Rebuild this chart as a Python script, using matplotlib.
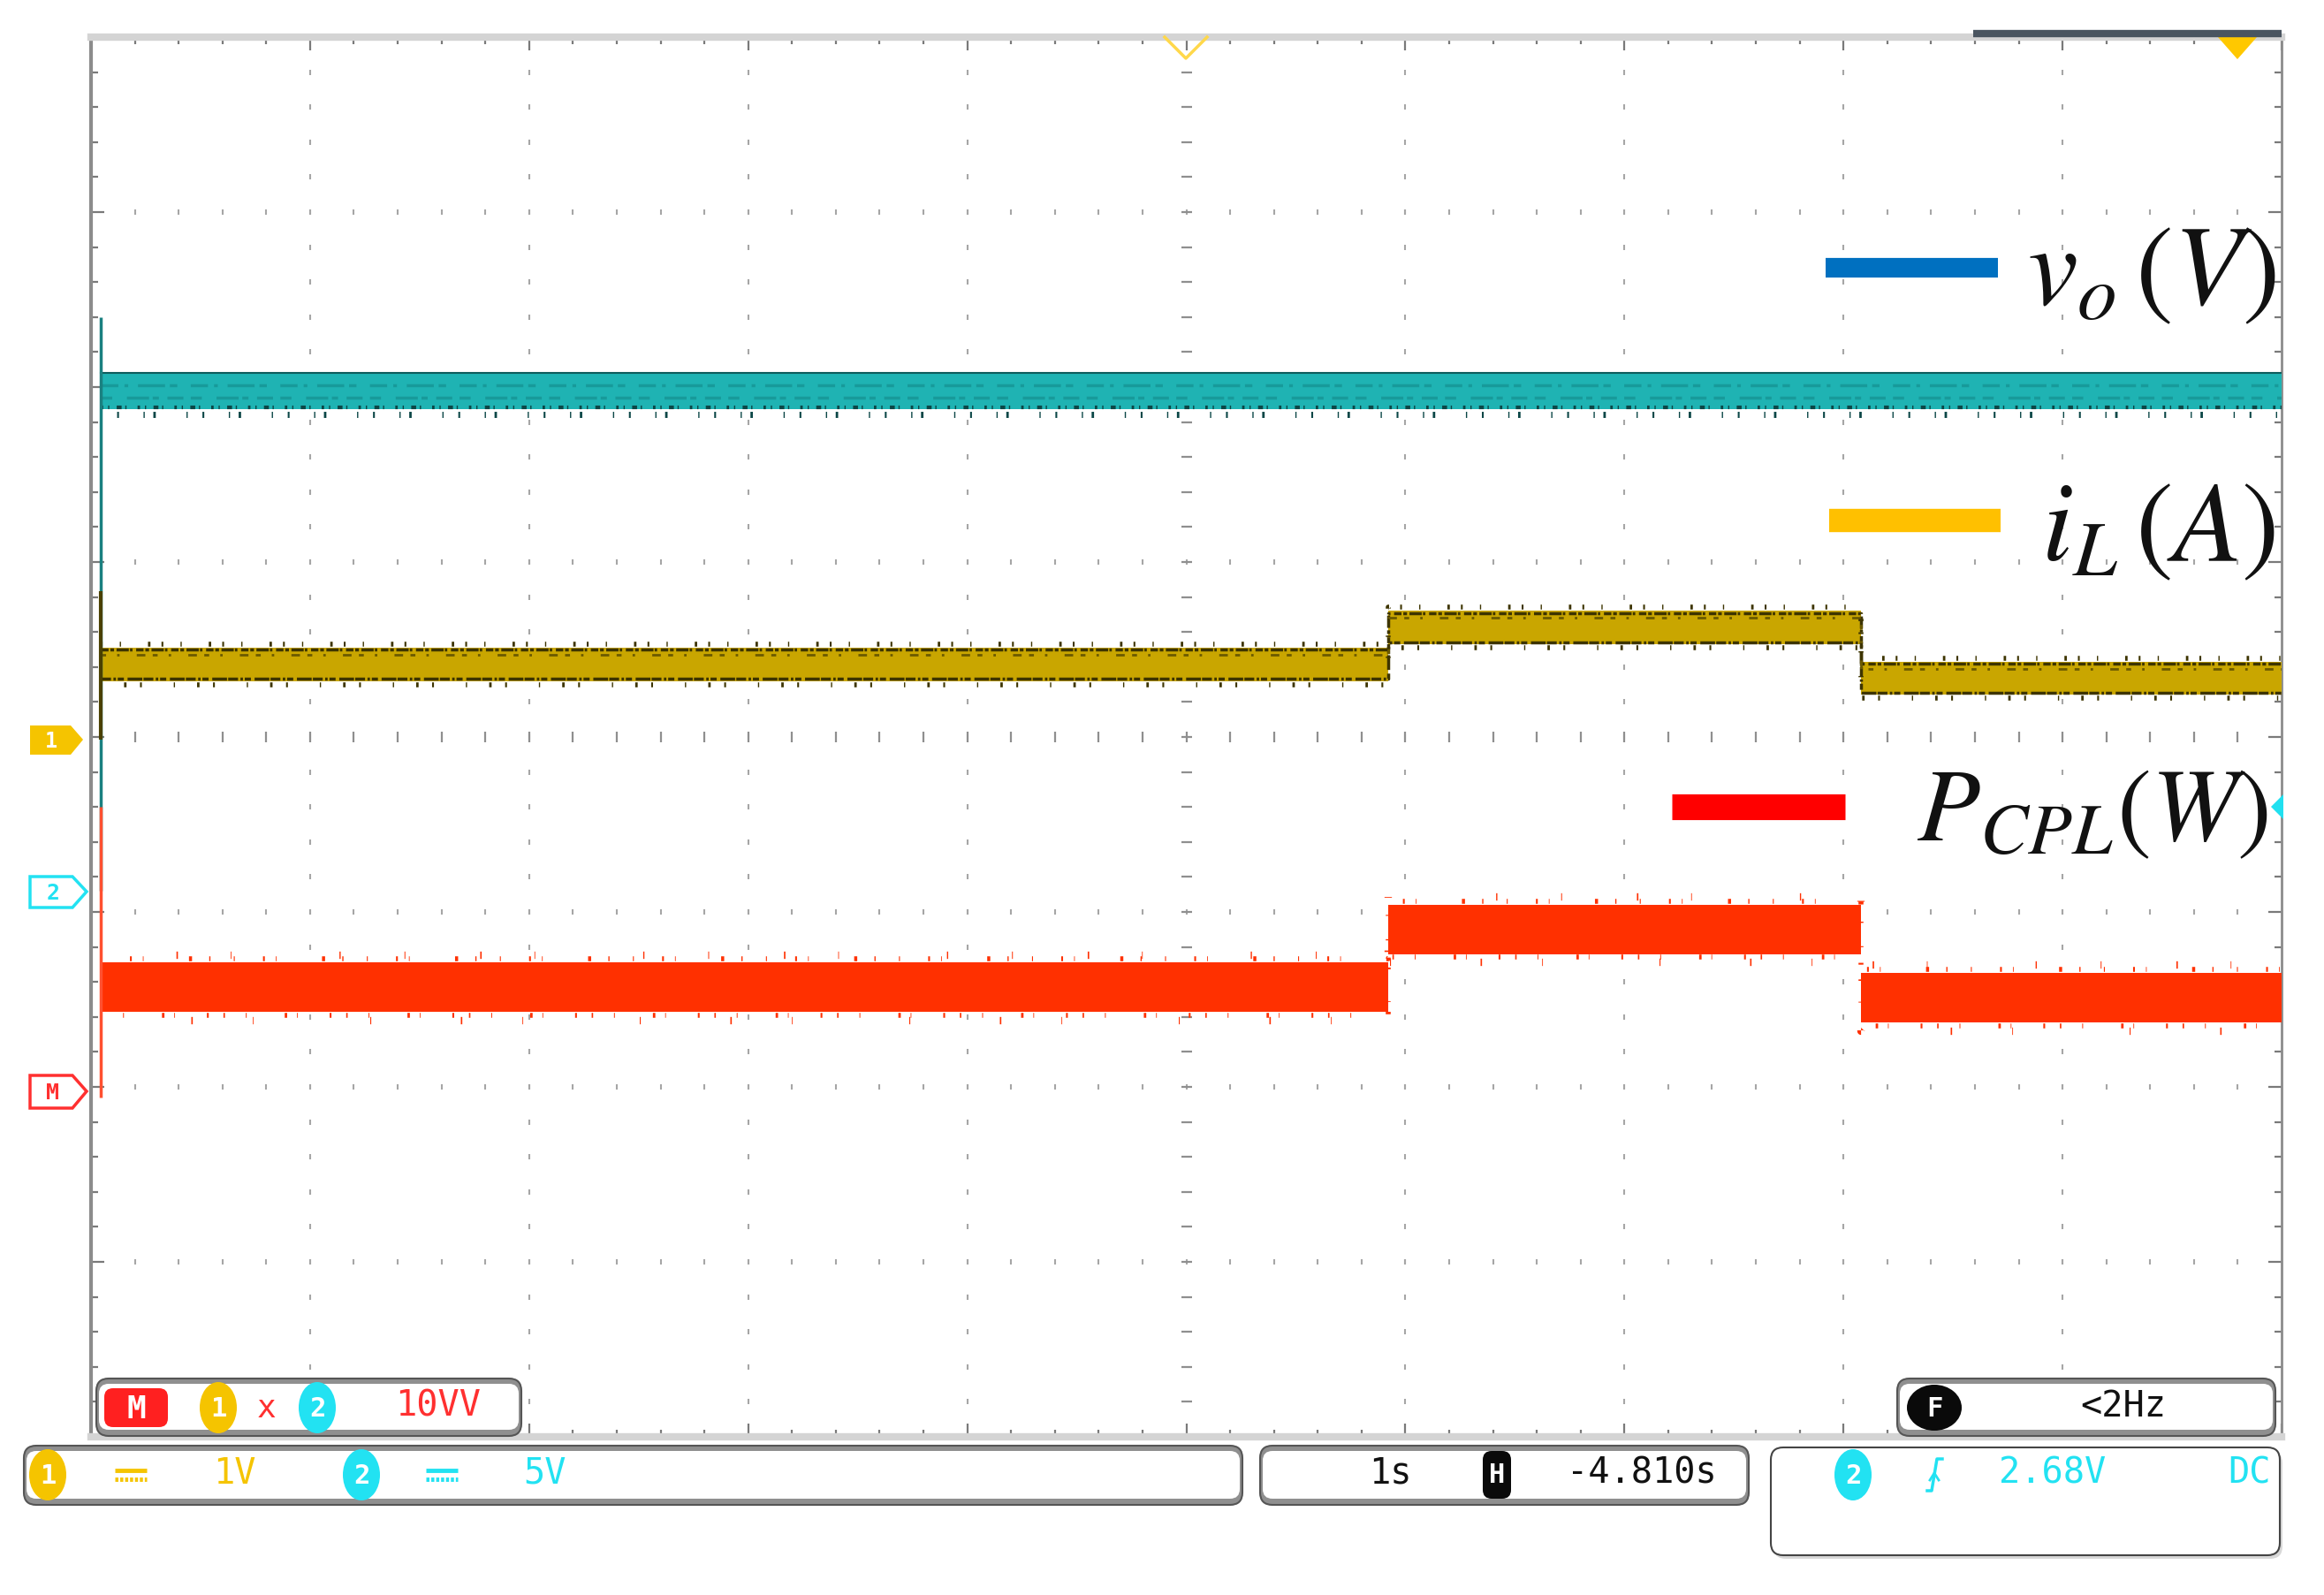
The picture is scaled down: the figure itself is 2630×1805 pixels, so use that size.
import matplotlib
matplotlib.use('Agg')
import matplotlib.pyplot as plt
import numpy as np
from matplotlib.patches import FancyBboxPatch, Polygon, Ellipse

plt.rcParams['mathtext.fontset'] = 'stix'
plt.rcParams['lines.scale_dashes'] = False

# ---------------- data ----------------
time_edges_s = [0.045, 5.92, 8.08, 10.0]      # screen time, 1 s/div
vo_V = [14.3, 14.3, 14.3]                      # output voltage levels
iL_A = [0.43, 0.64, 0.35]                      # inductor current levels
pcpl_W = [6.0, 9.3, 5.4]                       # CPL power levels
vo_start_peak_V = 16.4
iL_start_peak_A = 0.85
pcpl_start_peak_W = 16.3

# scope channel settings (as on screen)
ch1_per_div = 1.0
ch2_per_div = 5.0
math_per_div = 10.0
ch1_ground_div = -0.015
ch2_ground_div = -0.88
math_ground_div = -2.03

legend_labels = [r'$v_o\,(V)$', r'$i_L\,(A)$', r'$P_{CPL}(W)$']
legend_colors = ['#0070c0', '#ffc000', '#ff0000']

# ---------------- figure ----------------
W, H, DPI = 2630, 1806, 100
fig = plt.figure(figsize=(W / DPI, H / DPI), dpi=DPI)
L, R, T, B = 103, 2582, 43, 1627
ax = fig.add_axes([L / W, 1 - B / H, (R - L) / W, (B - T) / H])
ax.set_xlim(0, 10)
ax.set_ylim(-4, 4)

# graticule frame / ticks
ax.set_xticks(np.arange(0, 11, 1))
ax.set_yticks(np.arange(-4, 5, 1))
ax.set_xticks(np.arange(0, 10.01, 0.2), minor=True)
ax.set_yticks(np.arange(-4, 4.01, 0.2), minor=True)
ax.tick_params(which='both', direction='in', top=True, right=True,
               labelleft=False, labelbottom=False, color='#7a7a7a', width=1.6)
ax.tick_params(which='major', length=11)
ax.tick_params(which='minor', length=6)
ax.spines['left'].set_color('#8c8c8c'); ax.spines['left'].set_linewidth(3)
ax.spines['right'].set_color('#8c8c8c'); ax.spines['right'].set_linewidth(2)
ax.spines['top'].set_color('#d4d4d4'); ax.spines['top'].set_linewidth(6)
ax.spines['bottom'].set_color('#d4d4d4'); ax.spines['bottom'].set_linewidth(6)

# dotted grid
minor_x = np.arange(0.2, 10, 0.2)
minor_y = np.arange(-3.8, 4, 0.2)
for gx in range(1, 10):
    if gx == 5:
        continue
    ax.plot(np.full_like(minor_y, gx), minor_y, ls='none', marker='|',
            ms=4, mew=1.5, color='#a6a6a6', zorder=1)
for gy in range(-3, 4):
    if gy == 0:
        continue
    ax.plot(minor_x, np.full_like(minor_x, gy), ls='none', marker='|',
            ms=4, mew=1.5, color='#a6a6a6', zorder=1)
# centre axes with ticks
ax.plot(minor_x, np.zeros_like(minor_x), ls='none', marker='|', ms=8,
        mew=1.6, color='#8f8f8f', zorder=1)
ax.plot(np.full_like(minor_y, 5.0), minor_y, ls='none', marker='_', ms=8,
        mew=1.6, color='#8f8f8f', zorder=1)


def to_div(vals, per_div, ground):
    return [ground + v / per_div for v in vals]


t = np.array(time_edges_s)


def steps(levels):
    return np.array(levels + [levels[-1]])


# ---- v_o (ch2, cyan) ----
y = steps(to_div(vo_V, ch2_per_div, ch2_ground_div))
hw = 0.105
ax.fill_between(t, y - hw, y + hw, step='post', color='#1fb3b3', lw=0, zorder=3)
ax.step(t, y + hw - 0.005, where='post', color='#0d5c5c', lw=1.5, zorder=4)
ax.step(t, y + 0.03, where='post', color='#179a9a', lw=2.5,
        ls=(0, (14, 5, 3, 8, 22, 4, 6, 11)), zorder=4)
ax.step(t, y - 0.04, where='post', color='#179a9a', lw=2.5,
        ls=(0, (9, 12, 18, 3, 5, 7, 13, 6)), zorder=4)
ax.step(t, y - hw + 0.01, where='post', color='#0b4646', lw=3,
        ls=(0, (2, 4, 1, 6, 4, 3, 1, 9)), zorder=4)
ax.step(t, y - hw - 0.03, where='post', color='#0b4646', lw=5,
        ls=(0, (1, 12, 1.5, 20, 1, 7, 2, 25)), zorder=4)
ax.vlines(t[0], ch2_ground_div, to_div([vo_start_peak_V], ch2_per_div, ch2_ground_div)[0],
          color='#1a8080', lw=2.5, zorder=4)

# ---- i_L (ch1, yellow) ----
y = steps(to_div(iL_A, ch1_per_div, ch1_ground_div))
hw = 0.095
ax.fill_between(t, y - hw, y + hw, step='post', color='#c9a600', lw=0, zorder=3)
ax.step(t, y + hw - 0.012, where='post', color='#3d3400', lw=2.5,
        ls=(0, (6, 1.5, 3, 2, 10, 1, 2, 3)), zorder=4)
ax.step(t, y - hw + 0.012, where='post', color='#3d3400', lw=2.5,
        ls=(0, (8, 2, 2, 1.5, 5, 3, 12, 1)), zorder=4)
ax.step(t, y + hw - 0.04, where='post', color='#6b5a00', lw=2,
        ls=(0, (4, 9, 2, 14, 7, 6)), zorder=4)
ax.step(t, y + hw + 0.02, where='post', color='#3d3400', lw=4,
        ls=(0, (1.5, 14, 1, 22, 2, 9)), zorder=4)
ax.step(t, y - hw - 0.02, where='post', color='#3d3400', lw=4,
        ls=(0, (1, 18, 2, 11, 1.5, 26)), zorder=4)
ax.vlines(t[0], ch1_ground_div, to_div([iL_start_peak_A], ch1_per_div, ch1_ground_div)[0],
          color='#4a4000', lw=3, zorder=4)

# ---- P_CPL (math, red) ----
y = steps(to_div(pcpl_W, math_per_div, math_ground_div))
hw = 0.14
ax.fill_between(t, y - hw, y + hw, step='post', color='#ff3000', lw=0, zorder=3)
ax.step(t, y + hw + 0.02, where='post', color='#ff3000', lw=4,
        ls=(0, (0.8, 23, 1.5, 9, 0.6, 37, 2.5, 14, 1, 19)), zorder=4)
ax.step(t, y + hw + 0.045, where='post', color='#ff3000', lw=6,
        ls=(0, (0.7, 61, 1.2, 43, 0.6, 88, 1, 52)), zorder=4)
ax.step(t, y - hw - 0.02, where='post', color='#ff3000', lw=4,
        ls=(0, (1.2, 17, 0.7, 31, 2, 8, 0.6, 26, 1.5, 12)), zorder=4)
ax.step(t, y - hw - 0.05, where='post', color='#ff3000', lw=6,
        ls=(0, (0.8, 73, 1.2, 49, 0.6, 95)), zorder=4)
ax.vlines(t[0], math_ground_div - 0.03,
          to_div([pcpl_start_peak_W], math_per_div, math_ground_div)[0],
          color='#ff5030', lw=2.5, zorder=4)

# ---------------- overlay in pixel coordinates ----------------
ov = fig.add_axes([0, 0, 1, 1], zorder=5)
ov.set_xlim(0, W)
ov.set_ylim(H, 0)
ov.axis('off')
ov.patch.set_visible(False)

# legend
leg_lines = [((2066, 2261), 304, 16), ((2070, 2264), 590, 19), ((1892, 2088), 914, 21)]
leg_text = [(2575, 344, 92), (2575, 634, 92), (2566, 951, 84)]
for (xs, yy, lw), col, lab, (tx, ty, fs) in zip(leg_lines, legend_colors, legend_labels, leg_text):
    ov.plot(xs, [yy, yy], color=col, lw=lw, solid_capstyle='butt')
    ov.text(tx, ty, lab, ha='right', va='baseline', fontsize=fs, color='#111111')

# top markers
ov.plot([1318, 1342, 1366], [43, 67, 43], color='#ffd84a', lw=2.5)
ov.add_patch(Polygon([(2510, 43), (2554, 43), (2532, 68)], closed=True, fc='#ffc800', ec='none'))
ov.plot([2233, 2582], [39, 39], color='#4a5560', lw=6, solid_capstyle='butt')
# trigger level marker (right edge)
ov.add_patch(Polygon([(2570, 914), (2584, 900), (2584, 928)], closed=True, fc='#20e0f0', ec='none'))

# left channel markers
YEL, CYA, RED = '#f5c400', '#22e2f2', '#ff3030'
ov.add_patch(Polygon([(34, 822), (80, 822), (94, 838), (80, 855), (34, 855)], closed=True,
                     fc=YEL, ec='none'))
ov.text(58, 839, '1', color='white', ha='center', va='center', fontsize=17,
        family='DejaVu Sans Mono', weight='bold')
ov.add_patch(Polygon([(34, 993), (82, 993), (98, 1010), (82, 1028), (34, 1028)], closed=True,
                     fc='white', ec=CYA, lw=2.5))
ov.text(60, 1011, '2', color=CYA, ha='center', va='center', fontsize=18,
        family='DejaVu Sans Mono', weight='bold')
ov.add_patch(Polygon([(34, 1218), (82, 1218), (98, 1236), (82, 1255), (34, 1255)], closed=True,
                     fc='white', ec=RED, lw=2.5))
ov.text(60, 1237, 'M', color=RED, ha='center', va='center', fontsize=18,
        family='DejaVu Sans Mono', weight='bold')

MONO = 'DejaVu Sans Mono'


def rbox(x0, y0, x1, y1, r=14, heavy=True):
    if heavy:
        ov.add_patch(FancyBboxPatch((x0 + r, y0 + r), x1 - x0 - 2 * r, y1 - y0 - 2 * r,
                                    boxstyle=f'round,pad={r},rounding_size={r}',
                                    fc='#8f8f8f', ec='#555555', lw=1.5))
        ri = r - 3
        ov.add_patch(FancyBboxPatch((x0 + 3 + ri, y0 + 6 + ri), x1 - x0 - 6 - 2 * ri,
                                    y1 - y0 - 13 - 2 * ri,
                                    boxstyle=f'round,pad={ri},rounding_size={ri}',
                                    fc='white', ec='none'))
    else:
        ov.add_patch(FancyBboxPatch((x0 + r + 3, y0 + r + 4), x1 - x0 - 2 * r, y1 - y0 - 2 * r,
                                    boxstyle=f'round,pad={r},rounding_size={r}',
                                    fc='#d8d8d8', ec='none'))
        ov.add_patch(FancyBboxPatch((x0 + r, y0 + r), x1 - x0 - 2 * r, y1 - y0 - 2 * r,
                                    boxstyle=f'round,pad={r},rounding_size={r}',
                                    fc='white', ec='#444444', lw=1.5))


def badge(cx, cy, ch, col, w=42, h=58, txtcol='white'):
    ov.add_patch(Ellipse((cx, cy), w, h, fc=col, ec='none'))
    ov.text(cx, cy + 1, ch, color=txtcol, ha='center', va='center', fontsize=22,
            family=MONO, weight='bold')


def dc_sym(cx, cy, col):
    ov.plot([cx - 18, cx + 18], [cy - 5, cy - 5], color=col, lw=3.5, solid_capstyle='butt')
    ov.plot([cx - 18, cx + 18], [cy + 5, cy + 5], color=col, lw=3.5,
            ls=(0, (2.5, 1.5)), solid_capstyle='butt')


# box 1 : math definition
rbox(109, 1561, 590, 1626)
ov.add_patch(FancyBboxPatch((118, 1572), 72, 44, boxstyle='round,pad=0,rounding_size=10',
                            fc='#ff2020', ec='none'))
ov.text(154, 1595, 'M', color='white', ha='center', va='center', fontsize=26, family=MONO,
        weight='bold')
badge(247, 1594, '1', YEL)
ov.text(302, 1594, 'x', color=RED, ha='center', va='center', fontsize=26, family=MONO)
badge(359, 1594, '2', CYA)
ov.text(496, 1592, '10VV', color=RED, ha='center', va='center', fontsize=29, family=MONO)

# box 2 : frequency
rbox(2147, 1561, 2575, 1626)
badge(2189, 1594, 'F', '#0a0a0a', w=62, h=52)
ov.text(2403, 1592, '<2Hz', color='#111111', ha='center', va='center', fontsize=29, family=MONO)

# bottom status row
rbox(27, 1637, 1406, 1704)
badge(54, 1670, '1', YEL)
dc_sym(148, 1670, YEL)
ov.text(265, 1668, '1V', color=YEL, ha='center', va='center', fontsize=29, family=MONO)
badge(409, 1670, '2', CYA)
dc_sym(500, 1670, CYA)
ov.text(617, 1668, '5V', color=CYA, ha='center', va='center', fontsize=29, family=MONO)

rbox(1426, 1637, 1979, 1704)
ov.text(1573, 1668, '1s', color='#111111', ha='center', va='center', fontsize=29, family=MONO)
ov.add_patch(FancyBboxPatch((1678, 1643), 32, 54, boxstyle='round,pad=0,rounding_size=10',
                            fc='#0a0a0a', ec='none'))
ov.text(1694, 1670, 'H', color='white', ha='center', va='center', fontsize=22, family=MONO,
        weight='bold')
ov.text(1858, 1668, '-4.810s', color='#111111', ha='center', va='center', fontsize=29,
        family=MONO)

rbox(2004, 1639, 2580, 1761, heavy=False)
badge(2097, 1670, '2', CYA)
ov.plot([2181, 2186, 2192, 2198], [1688, 1688, 1652, 1652], color=CYA, lw=2.5)
ov.plot([2184, 2189, 2194], [1676, 1668, 1676], color=CYA, lw=2)
ov.text(2323, 1668, '2.68V', color=CYA, ha='center', va='center', fontsize=29, family=MONO)
ov.text(2546, 1668, 'DC', color=CYA, ha='center', va='center', fontsize=29, family=MONO)

fig.savefig('out.png', dpi=DPI, facecolor='white')
